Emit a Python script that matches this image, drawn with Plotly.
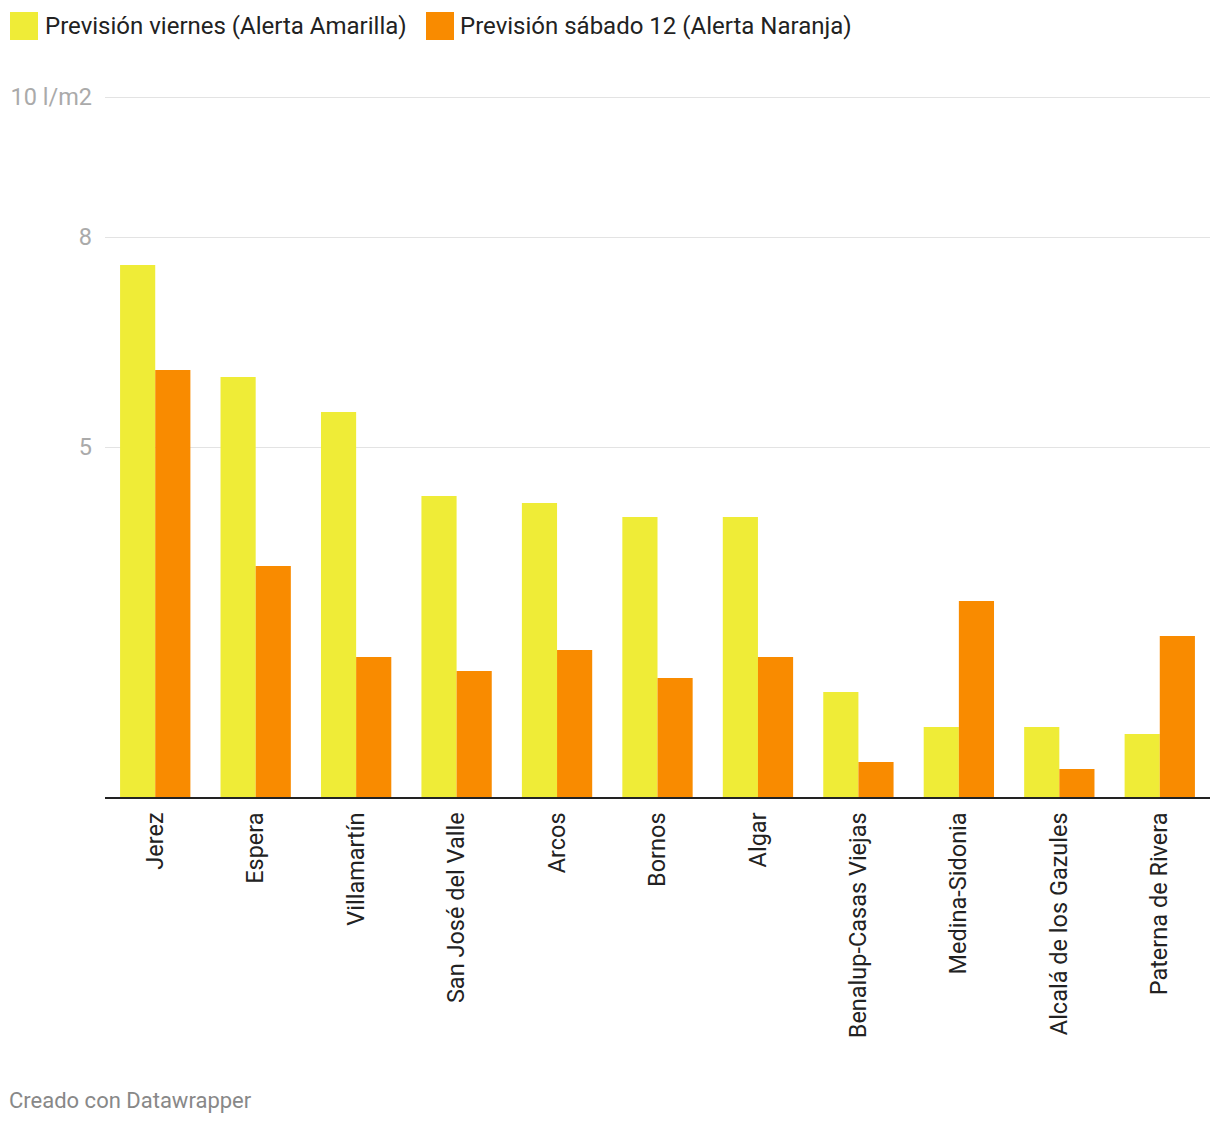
import plotly.graph_objects as go

categories = ["Jerez", "Espera", "Villamartín", "San José del Valle", "Arcos", "Bornos",
              "Algar", "Benalup-Casas Viejas", "Medina-Sidonia", "Alcalá de los Gazules",
              "Paterna de Rivera"]
viernes = [7.6, 6.0, 5.5, 4.3, 4.2, 4.0, 4.0, 1.5, 1.0, 1.0, 0.9]
sabado = [6.1, 3.3, 2.0, 1.8, 2.1, 1.7, 2.0, 0.5, 2.8, 0.4, 2.3]
series_names = ["Previsión viernes (Alerta Amarilla)", "Previsión sábado 12 (Alerta Naranja)"]
y_tickvals = [5, 8, 10]
y_ticktext = ["5", "8", "10 l/m2"]
footer = "Creado con Datawrapper"

YELLOW = "#efec37"
ORANGE = "#f98b00"
OFF = 8  # default page body margin
YMAX = 10.1
W, H = 1220 - OFF, 1126 - OFF
L, R, T, B = 105 - OFF, 10, 90 - OFF, 329
PW, PH = W - L - R, H - T - B


def px(x):
    # x given in screenshot pixels
    return (x - OFF - L) / PW


def py(y):
    return (H - B - (y - OFF)) / PH


fig = go.Figure()
fig.add_trace(go.Bar(x=categories, y=viernes, name=series_names[0], marker_color=YELLOW,
                     marker_line_width=0, showlegend=False))
fig.add_trace(go.Bar(x=categories, y=sabado, name=series_names[1], marker_color=ORANGE,
                     marker_line_width=0, showlegend=False))

# custom legend
shapes = []
annotations = []
for x0, color, text_x, name in [(10, YELLOW, 43, series_names[0]), (426, ORANGE, 458, series_names[1])]:
    shapes.append(dict(type="rect", xref="paper", yref="paper", x0=px(x0), x1=px(x0 + 28),
                       y0=py(40), y1=py(12), fillcolor=color, line_width=0, layer="above"))
    annotations.append(dict(xref="paper", yref="paper", x=px(text_x), y=py(26), text=name,
                            showarrow=False, xanchor="left", yanchor="middle",
                            font=dict(family="Roboto", size=24, color="#222")))
annotations.append(dict(xref="paper", yref="paper", x=px(7), y=py(1100), text=footer,
                        showarrow=False, xanchor="left", yanchor="middle",
                        font=dict(family="Roboto", size=22, color="#888")))

fig.update_layout(
    width=W, height=H,
    margin=dict(l=L, r=R, t=T, b=B, pad=0),
    paper_bgcolor="white", plot_bgcolor="white",
    barmode="group", bargap=0.3, bargroupgap=0,
    font=dict(family="Roboto", color="#222"),
    shapes=shapes, annotations=annotations,
    xaxis=dict(tickangle=-90, tickfont=dict(family="Roboto", size=23.5, color="#222"),
               showline=True, linecolor="#222", linewidth=2, ticks="", showgrid=False,
               ticklabelstandoff=4, automargin=False),
    yaxis=dict(range=[0, YMAX], tickvals=y_tickvals, ticktext=y_ticktext, showgrid=True,
               gridcolor="#e3e3e3", gridwidth=1, zeroline=False, showline=False,
               tickfont=dict(family="Roboto", size=23.5, color="#aaa"), ticks="",
               ticklabelstandoff=12, automargin=False),
)

fig.write_html("out.html")
